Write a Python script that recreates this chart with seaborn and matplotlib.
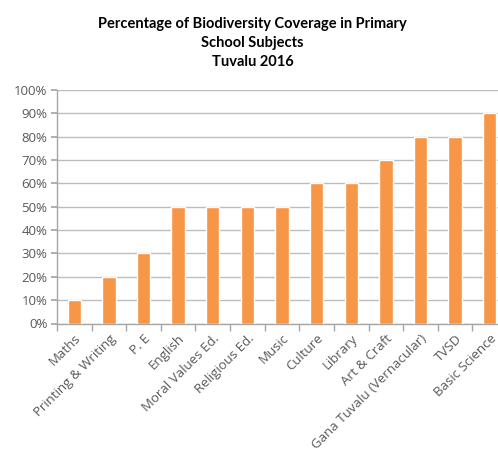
import matplotlib
matplotlib.use("Agg")
import matplotlib.pyplot as plt
import seaborn as sns
import pandas as pd
import numpy as np
from matplotlib.ticker import FuncFormatter, MultipleLocator

subjects = ["Maths", "Printing & Writing", "P. E", "English", "Moral Values Ed.",
            "Religious Ed.", "Music", "Culture", "Library", "Art & Craft",
            "Gana Tuvalu (Vernacular)", "TVSD", "Basic Science"]
coverage = [10, 20, 30, 50, 50, 50, 50, 60, 60, 70, 80, 80, 90]

df = pd.DataFrame({"subject": subjects, "coverage": coverage})

sns.set_theme(style="white")
plt.rcParams["font.family"] = ["Open Sans", "DejaVu Sans"]

fig = plt.figure(figsize=(4.98, 4.5), dpi=100)
ax = fig.add_axes([57 / 498, 1 - 323.5 / 450, 450 / 498, (323.5 - 90) / 450])

sns.barplot(data=df, x="subject", y="coverage", color="#F79646", saturation=1,
            width=0.385, ax=ax, zorder=3)

ax.set_ylim(0, 100)
ax.set_xlim(-0.5, len(subjects) - 0.5)
ax.yaxis.set_major_locator(MultipleLocator(10))
ax.yaxis.set_major_formatter(FuncFormatter(lambda v, p: f"{int(v)}%"))
ax.grid(axis="y", color="#bdbdbd", linewidth=1, zorder=0)
ax.set_axisbelow(True)

for s in ["top", "right"]:
    ax.spines[s].set_visible(False)
for s in ["left", "bottom"]:
    ax.spines[s].set_color("#a6a6a6")
    ax.spines[s].set_linewidth(1)

ax.tick_params(axis="y", length=4, color="#a6a6a6", labelsize=9.5,
               labelcolor="#595959", pad=3, left=True)
ax.tick_params(axis="x", which="major", length=0, labelsize=9.5,
               labelcolor="#595959", pad=6)
ax.set_xticks(np.arange(-0.5, len(subjects)), minor=True)
ax.tick_params(axis="x", which="minor", length=5, color="#a6a6a6", bottom=True)
ax.set_xticklabels(subjects, rotation=45, ha="right", rotation_mode="anchor")
ax.set_xlabel("")
ax.set_ylabel("")

fig.text(0.507, 0.962, "Percentage of Biodiversity Coverage in Primary\nSchool Subjects\nTuvalu 2016",
         ha="center", va="top", fontsize=10.5, fontweight="bold", color="#000000",
         linespacing=1.45, family=["Lato", "DejaVu Sans"])

fig.savefig("out.png", dpi=100)
